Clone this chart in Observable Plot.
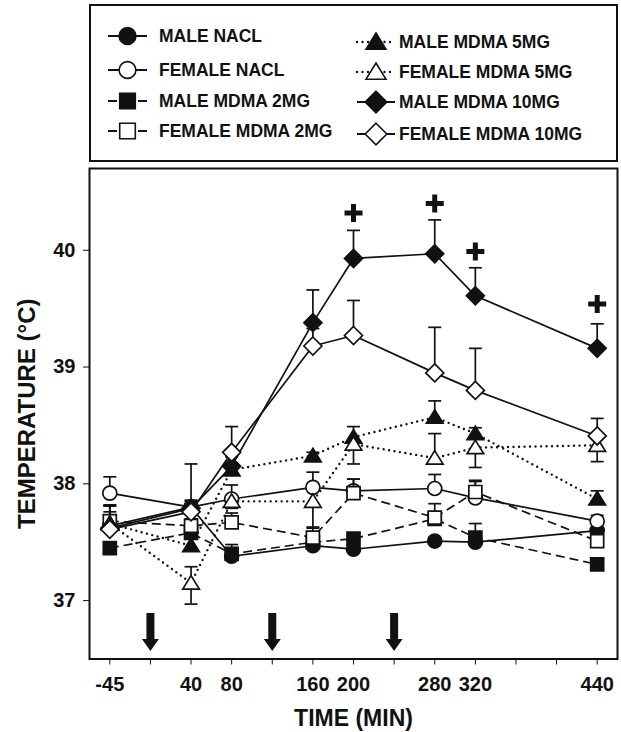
<!DOCTYPE html>
<html><head><meta charset="utf-8">
<script src="https://cdn.jsdelivr.net/npm/d3@7"></script>
<script src="https://cdn.jsdelivr.net/npm/@observablehq/plot@0.6"></script>
<style>
body{margin:0;background:#fff;width:621px;height:732px;overflow:hidden;position:relative;font-family:"Liberation Sans",Arial,sans-serif;}
#legend{position:absolute;left:0;top:0;}
#chart{position:absolute;left:0;top:162px;}
</style></head><body>
<div id="legend"></div><div id="chart"></div>
<script>
// ---- data ----
const times = [-45, 40, 80, 160, 200, 280, 320, 440];
const seriesNames = ["MALE NACL","FEMALE NACL","MALE MDMA 2MG","FEMALE MDMA 2MG","MALE MDMA 5MG","FEMALE MDMA 5MG","MALE MDMA 10MG","FEMALE MDMA 10MG"];

const maleNacl        = [37.64, 37.80, 37.38, 37.47, 37.44, 37.51, 37.50, 37.60];
const maleNaclUp      = [0.05, 0.06, 0.10, 0.04, 0.04, 0.03, 0.05, 0.08];
const maleNaclDown    = [0, 0, 0, 0, 0, 0, 0, 0];

const femaleNacl      = [37.92, 37.80, 37.87, 37.97, 37.94, 37.96, 37.88, 37.68];
const femaleNaclUp    = [0.14, 0.05, 0.12, 0.13, 0.10, 0.12, 0.14, 0.05];
const femaleNaclDown  = [0, 0, 0, 0, 0, 0, 0, 0];

const maleMdma2       = [37.45, 37.58, 37.40, 37.50, 37.53, 37.70, 37.54, 37.31];
const maleMdma2Up     = [0.04, 0.04, 0.04, 0.05, 0.05, 0.05, 0.12, 0.03];
const maleMdma2Down   = [0, 0, 0, 0, 0, 0, 0, 0];

const femaleMdma2     = [37.68, 37.64, 37.67, 37.54, 37.92, 37.71, 37.93, 37.51];
const femaleMdma2Up   = [0.13, 0.06, 0.08, 0.09, 0.12, 0.12, 0.10, 0.05];
const femaleMdma2Down = [0, 0, 0, 0, 0, 0, 0, 0];

const maleMdma5       = [37.66, 37.47, 38.12, 38.24, 38.40, 38.57, 38.43, 37.87];
const maleMdma5Up     = [0.10, 0.06, 0.06, 0.03, 0.09, 0.14, 0.05, 0.07];
const maleMdma5Down   = [0, 0, 0, 0, 0, 0, 0, 0];

const femaleMdma5     = [37.66, 37.15, 37.85, 37.85, 38.34, 38.22, 38.31, 38.33];
const femaleMdma5Up   = [0, 0.14, 0, 0, 0, 0.21, 0, 0];
const femaleMdma5Down = [0.06, 0.18, 0.06, 0.23, 0.17, 0, 0.17, 0.14];

const maleMdma10      = [37.62, 37.79, 38.15, 39.38, 39.93, 39.97, 39.61, 39.16];
const maleMdma10Up    = [0.20, 0.38, 0.08, 0.28, 0.24, 0.29, 0.24, 0.21];
const maleMdma10Down  = [0, 0, 0, 0, 0, 0, 0, 0];

const femaleMdma10    = [37.61, 37.76, 38.27, 39.18, 39.27, 38.95, 38.80, 38.41];
const femaleMdma10Up  = [0.20, 0.05, 0.22, 0.15, 0.30, 0.39, 0.36, 0.15];
const femaleMdma10Down= [0, 0, 0, 0, 0, 0, 0, 0];

// significance markers (+)
const plusTimes  = [200, 280, 320, 440];
const plusValues = [40.32, 40.40, 39.99, 39.54];

// injection arrows
const injectionTimes = [0, 120, 240];

// axis ticks
const xTickPositions = [-40, 0, 40, 80, 120, 160, 200, 240, 280, 320, 360, 400, 440];
const xTickLabels    = ["-45", "", "40", "80", "", "160", "200", "", "280", "320", "", "", "440"];
const yTicks = [37, 38, 39, 40];

// ---- build table ----
const seriesValues = [maleNacl, femaleNacl, maleMdma2, femaleMdma2, maleMdma5, femaleMdma5, maleMdma10, femaleMdma10];
const seriesUp = [maleNaclUp, femaleNaclUp, maleMdma2Up, femaleMdma2Up, maleMdma5Up, femaleMdma5Up, maleMdma10Up, femaleMdma10Up];
const seriesDown = [maleNaclDown, femaleNaclDown, maleMdma2Down, femaleMdma2Down, maleMdma5Down, femaleMdma5Down, maleMdma10Down, femaleMdma10Down];

// broken axis: baseline (-45) is drawn at the first tick position
const xPos = t => t < 0 ? -40 : t;

const INK = "#111";
const shapes = ["circle","circle","square","square","triangle","triangle","diamond","diamond"];
const filled = [true,false,true,false,true,false,true,false];
const dashes = ["none","none","9,5","9,5","0,5.5","0,5.5","none","none"];

function drawShape(ctx, shape, k) {
  if (shape === "circle") { ctx.moveTo(7*k, 0); ctx.arc(0, 0, 7*k, 0, 2*Math.PI); ctx.closePath(); }
  else if (shape === "square") { ctx.rect(-6.5*k, -6.5*k, 13*k, 13*k); }
  else if (shape === "triangle") { ctx.moveTo(0, -7.5*k); ctx.lineTo(8.3*k, 6*k); ctx.lineTo(-8.3*k, 6*k); ctx.closePath(); }
  else if (shape === "diamond") { ctx.moveTo(0, -9*k); ctx.lineTo(9*k, 0); ctx.lineTo(0, 9*k); ctx.lineTo(-9*k, 0); ctx.closePath(); }
}
const symbolFor = (shape, k=1) => ({draw(ctx){ drawShape(ctx, shape, k); }});
const capSymbol = {draw(ctx){ ctx.moveTo(-6.5, 0); ctx.lineTo(6.5, 0); }};
const plusSymbol = {draw(ctx){
  const L = 9, T = 2.5;
  ctx.moveTo(-T,-L); ctx.lineTo(T,-L); ctx.lineTo(T,-T); ctx.lineTo(L,-T); ctx.lineTo(L,T); ctx.lineTo(T,T);
  ctx.lineTo(T,L); ctx.lineTo(-T,L); ctx.lineTo(-T,T); ctx.lineTo(-L,T); ctx.lineTo(-L,-T); ctx.lineTo(-T,-T); ctx.closePath();
}};
const arrowSymbol = {draw(ctx){
  ctx.moveTo(-4,-19); ctx.lineTo(4,-19); ctx.lineTo(4,7); ctx.lineTo(8.5,7); ctx.lineTo(0,19);
  ctx.lineTo(-8.5,7); ctx.lineTo(-4,7); ctx.closePath();
}};

const marks = [];
seriesNames.forEach((name, i) => {
  const rows = times.map((t, j) => ({series: name, x: xPos(t), v: seriesValues[i][j], up: seriesUp[i][j], down: seriesDown[i][j]}));
  const isDot = dashes[i] === "0,5.5";
  marks.push(Plot.line(rows, {x: "x", y: "v", stroke: INK, strokeWidth: isDot ? 2.4 : 1.7,
    strokeDasharray: dashes[i] === "none" ? null : dashes[i], strokeLinecap: isDot ? "round" : "butt"}));
  const ups = rows.filter(d => d.up > 0), downs = rows.filter(d => d.down > 0);
  marks.push(Plot.ruleX(ups, {x: "x", y1: "v", y2: d => d.v + d.up, stroke: INK, strokeWidth: 1.7}));
  marks.push(Plot.dot(ups, {x: "x", y: d => d.v + d.up, symbol: capSymbol, stroke: INK, fill: "none", strokeWidth: 1.7}));
  marks.push(Plot.ruleX(downs, {x: "x", y1: "v", y2: d => d.v - d.down, stroke: INK, strokeWidth: 1.7}));
  marks.push(Plot.dot(downs, {x: "x", y: d => d.v - d.down, symbol: capSymbol, stroke: INK, fill: "none", strokeWidth: 1.7}));
  marks.push(Plot.dot(rows, {x: "x", y: "v", symbol: symbolFor(shapes[i]), fill: filled[i] ? INK : "white", stroke: INK, strokeWidth: 1.7}));
});

const plusRows = plusTimes.map((t, i) => ({x: xPos(t), v: plusValues[i]}));
marks.push(Plot.dot(plusRows, {x: "x", y: "v", symbol: plusSymbol, fill: INK, stroke: "none"}));
marks.push(Plot.dot(injectionTimes, {x: d => d, frameAnchor: "bottom", dy: -27, symbol: arrowSymbol, fill: INK, stroke: "none"}));
marks.push(Plot.frame({stroke: INK, strokeWidth: 2}));
marks.push(Plot.text(["TIME (MIN)"], {frameAnchor: "bottom", dy: 60, text: d => d, textAnchor: "middle", lineAnchor: "middle", fontSize: 23, fontWeight: "bold", fill: INK}));
marks.push(Plot.text(["TEMPERATURE (\u00B0C)"], {frameAnchor: "left", dx: -62, rotate: -90, text: d => d, textAnchor: "middle", lineAnchor: "middle", fontSize: 24, fontWeight: "bold", fill: INK}));

const chart = Plot.plot({
  width: 621, height: 570,
  marginLeft: 89, marginRight: 4, marginTop: 6, marginBottom: 73.5,
  style: {fontFamily: "'Liberation Sans', Arial, sans-serif", fontWeight: "bold", fontSize: "20px", color: INK, background: "white", overflow: "visible"},
  x: {domain: [-60, 460], ticks: xTickPositions, tickFormat: d => xTickLabels[xTickPositions.indexOf(d)], tickSize: 6, tickPadding: 12, label: null},
  y: {domain: [36.5, 40.7], ticks: yTicks, tickFormat: d => String(d), tickSize: 6, tickPadding: 8, label: null},
  marks
});
document.getElementById("chart").appendChild(chart);

// ---- legend ----
const lg = d3.select("#legend").append("svg").attr("width", 621).attr("height", 162);
lg.append("rect").attr("x", 90).attr("y", 5).attr("width", 527).attr("height", 156)
  .attr("fill", "white").attr("stroke", INK).attr("stroke-width", 2);
const legendCols = [{mx: 127.5, x1: 108, x2: 147, tx: 159}, {mx: 376, x1: 357, x2: 395, tx: 399}];
const legendRowsY = [[36, 70, 101, 131], [42, 72, 102, 134]];
seriesNames.forEach((name, i) => {
  const col = (i < 4) ? 0 : 1, row = i % 4;
  const c = legendCols[col], y = legendRowsY[col][row];
  const isDot = dashes[i] === "0,5.5";
  lg.append("line").attr("x1", c.x1).attr("x2", c.x2).attr("y1", y).attr("y2", y)
    .attr("stroke", INK).attr("stroke-width", isDot ? 2.4 : 1.8)
    .attr("stroke-dasharray", dashes[i] === "none" ? null : (dashes[i] === "9,5" ? "9,21" : dashes[i]))
    .attr("stroke-linecap", isDot ? "round" : "butt");
  const p = d3.path(); drawShape(p, shapes[i], 1.2);
  lg.append("path").attr("d", p.toString()).attr("transform", `translate(${c.mx},${y})`)
    .attr("fill", filled[i] ? INK : "white").attr("stroke", INK).attr("stroke-width", 1.6);
  lg.append("text").attr("x", c.tx).attr("y", y).attr("dy", "0.36em").text(name)
    .attr("font-family", "'Liberation Sans', Arial, sans-serif").attr("font-weight", "bold")
    .attr("font-size", 17.5).attr("fill", INK);
});
</script>
</body></html>
